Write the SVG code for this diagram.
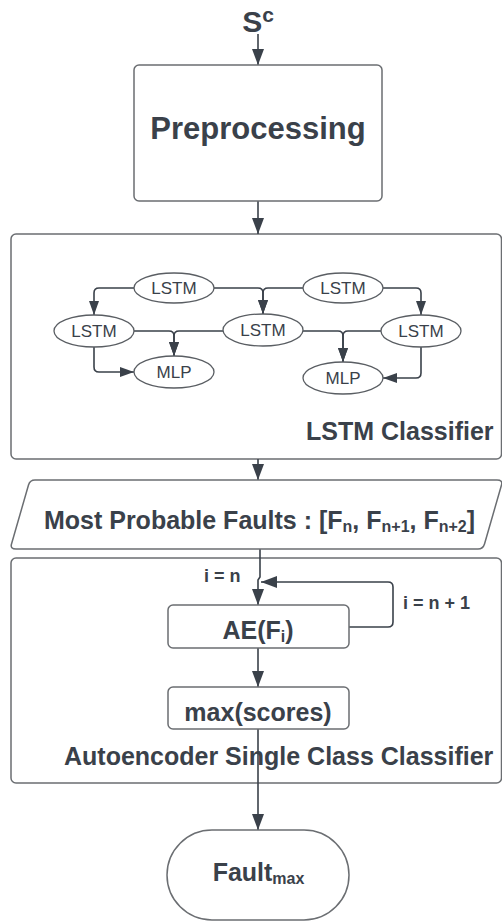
<svg xmlns="http://www.w3.org/2000/svg" width="502" height="923" viewBox="0 0 502 923">
<defs>
<style>
.box{fill:#fff;stroke:#6b6e72;stroke-width:1.5}
.ell{fill:#fff;stroke:#5a5e63;stroke-width:1.3}
.con{fill:none;stroke:#3a414a;stroke-width:1.6}
.bt{font-family:"Liberation Sans",Arial,sans-serif;font-weight:bold;fill:#3a414a}
.rt{font-family:"Liberation Sans",Arial,sans-serif;fill:#3a414a;font-size:17px;text-anchor:middle}
</style>
<marker id="big" markerUnits="userSpaceOnUse" markerWidth="16" markerHeight="12" refX="16" refY="6" orient="auto">
<path d="M0,0 L16,6 L0,12 z" fill="#3a414a"/>
</marker>
<marker id="sm" markerUnits="userSpaceOnUse" markerWidth="14" markerHeight="10" refX="14" refY="5" orient="auto">
<path d="M0,0 L14,5 L0,10 z" fill="#3a414a"/>
</marker>
</defs>

<g id="containers">
<rect id="lstm-container" class="box" x="11" y="234" width="490.5" height="225" rx="5"/>
<rect id="ae-container" class="box" x="11" y="558" width="490.5" height="225" rx="5"/>
</g>

<g id="connectors">
<line class="con" x1="258" y1="34" x2="258" y2="65" marker-end="url(#big)"/>
<line class="con" x1="258" y1="201" x2="258" y2="234" marker-end="url(#big)"/>
<line class="con" x1="258" y1="459" x2="258" y2="480" marker-end="url(#big)"/>
<path class="con" d="M260,549 V577 L258,580 V605" marker-end="url(#big)"/>
<path class="con" d="M349,627 H388 Q393,627 393,622 V587 Q393,582 388,582 H261" marker-end="url(#big)"/>
<line class="con" x1="258" y1="648" x2="258" y2="687" marker-end="url(#big)"/>
<line class="con" x1="258" y1="729" x2="258" y2="830" marker-end="url(#big)"/>
<!-- LSTM network -->
<path class="con" d="M134,288 H99 Q94,288 94,293 V315" marker-end="url(#sm)"/>
<path class="con" d="M214,288 H258 Q263,288 263,293 V314" marker-end="url(#sm)"/>
<path class="con" d="M303,288 H268 Q263,288 263,293 V314" marker-end="url(#sm)"/>
<path class="con" d="M383,288 H416 Q421,288 421,293 V315" marker-end="url(#sm)"/>
<path class="con" d="M134,331 H169 Q174,331 174,336 V356" marker-end="url(#sm)"/>
<path class="con" d="M223,331 H179 Q174,331 174,336 V356" marker-end="url(#sm)"/>
<path class="con" d="M303,331 H338 Q343,331 343,336 V362" marker-end="url(#sm)"/>
<path class="con" d="M381,331 H348 Q343,331 343,336 V362" marker-end="url(#sm)"/>
<path class="con" d="M94,347 V367 Q94,372 99,372 H134" marker-end="url(#sm)"/>
<path class="con" d="M421,347 V373 Q421,378 416,378 H383" marker-end="url(#sm)"/>
</g>

<g id="sc-label">
<text class="bt" x="258" y="32" font-size="30" text-anchor="middle">S<tspan font-size="21" dy="-10">c</tspan></text>
</g>

<g id="preprocessing">
<rect class="box" x="134" y="65" width="248" height="136" rx="5"/>
<text class="bt" x="258" y="139" font-size="31" text-anchor="middle">Preprocessing</text>
</g>

<g id="lstm-top-1"><ellipse class="ell" cx="174" cy="288" rx="40" ry="15"/><text class="rt" x="174" y="294">LSTM</text></g>
<g id="lstm-top-2"><ellipse class="ell" cx="343" cy="288" rx="40" ry="15"/><text class="rt" x="343" y="294">LSTM</text></g>
<g id="lstm-mid-1"><ellipse class="ell" cx="94" cy="331" rx="40" ry="16"/><text class="rt" x="94" y="337">LSTM</text></g>
<g id="lstm-mid-2"><ellipse class="ell" cx="263" cy="330" rx="40" ry="16"/><text class="rt" x="263" y="336">LSTM</text></g>
<g id="lstm-mid-3"><ellipse class="ell" cx="421" cy="331" rx="40" ry="16"/><text class="rt" x="421" y="337">LSTM</text></g>
<g id="mlp-1"><ellipse class="ell" cx="174" cy="372" rx="40" ry="16"/><text class="rt" x="174" y="378">MLP</text></g>
<g id="mlp-2"><ellipse class="ell" cx="343" cy="378" rx="40" ry="16"/><text class="rt" x="343" y="384">MLP</text></g>

<g id="lstm-classifier-label">
<text class="bt" x="306" y="440" font-size="25">LSTM Classifier</text>
</g>

<g id="most-probable-faults">
<path class="box" d="M35,480 H497 Q503,480 501.5,485 L484.5,544 Q483,549 478,549 H16 Q10,549 11.5,544 L28.5,485 Q30,480 35,480 Z"/>
<text class="bt" x="259.5" y="529" font-size="25" text-anchor="middle">Most Probable Faults : [F<tspan font-size="16" dy="3">n</tspan><tspan dy="-3">, F</tspan><tspan font-size="16" dy="3">n+1</tspan><tspan dy="-3">, F</tspan><tspan font-size="16" dy="3">n+2</tspan><tspan dy="-3">]</tspan></text>
</g>

<g id="loop-labels">
<text class="bt" x="204" y="582" font-size="18">i = n</text>
<text class="bt" x="403" y="609" font-size="18">i = n + 1</text>
</g>

<g id="ae">
<rect class="box" x="168" y="605" width="181" height="43" rx="5"/>
<text class="bt" x="258" y="639" font-size="25" text-anchor="middle">AE(F<tspan font-size="16" dy="3">i</tspan><tspan dy="-3">)</tspan></text>
</g>

<g id="max-scores">
<rect class="box" x="168" y="687" width="181" height="42" rx="5"/>
<text class="bt" x="258" y="721" font-size="25" text-anchor="middle">max(scores)</text>
</g>

<g id="ae-container-label">
<text class="bt" x="64" y="765" font-size="25">Autoencoder Single Class Classifier</text>
</g>

<g id="fault-max">
<rect class="box" x="167" y="830" width="182" height="90" rx="45"/>
<text class="bt" x="258.5" y="881" font-size="25" text-anchor="middle">Fault<tspan font-size="16" dy="3">max</tspan></text>
</g>
</svg>
